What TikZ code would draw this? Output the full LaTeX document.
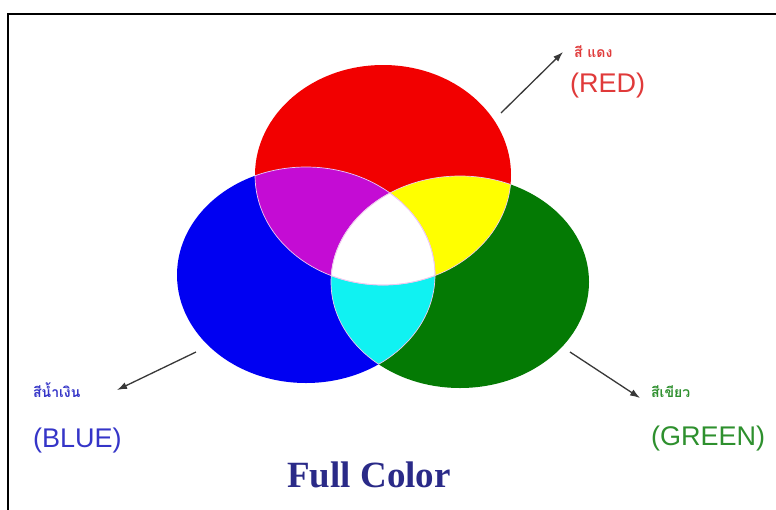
\documentclass[tikz,border=0pt]{standalone}
\usepackage{fontspec}
\setmainfont{Liberation Sans}
\newfontfamily\thaifont[Script=Thai]{Loma}
\newfontfamily\titlefont{Liberation Serif}
\usetikzlibrary{arrows.meta}
\definecolor{cred}{HTML}{F20000}
\definecolor{cblue}{HTML}{0000F2}
\definecolor{cgreen}{HTML}{047A04}
\definecolor{cmag}{HTML}{C40CD4}
\definecolor{cyel}{HTML}{FFFF00}
\definecolor{ccyan}{HTML}{10F2F2}
\definecolor{cedge}{HTML}{F0C8F0}
\definecolor{tred}{HTML}{E03A3A}
\definecolor{tblue}{HTML}{3535C8}
\definecolor{tgreen}{HTML}{2E902E}
\definecolor{tnavy}{HTML}{2A2A88}
\definecolor{arrowc}{HTML}{383838}
\tikzset{
  edgeline/.style={draw=cedge, line width=0.7pt},
  pointer/.style={draw=arrowc, line width=1.3pt, -{Latex[length=10pt,width=7pt]}},
  thailbl/.style={anchor=base west, inner sep=0pt, font=\thaifont\bfseries\fontsize{14}{15}\selectfont},
  englbl/.style={anchor=base west, inner sep=0pt, font=\fontsize{27}{29}\selectfont},
}
\def\RedE{(383,175) ellipse [x radius=128, y radius=110]}
\def\BlueE{(306,275) ellipse [x radius=129, y radius=108]}
\def\GreenE{(460,282) ellipse [x radius=129, y radius=106]}
\begin{document}
\begin{tikzpicture}[x=1pt,y=-1pt]
\useasboundingbox (0,0) rectangle (776,509);
\fill[white] (0,0) rectangle (776,509);
% frame
\draw[line width=2pt] (8,530) -- (8,14) -- (800,14);
% circles
\fill[cred] \RedE;
\fill[cblue] \BlueE;
\fill[cgreen] \GreenE;
\begin{scope}
  \clip \RedE;
  \fill[cmag] \BlueE;
  \fill[cyel] \GreenE;
\end{scope}
\begin{scope}
  \clip \BlueE;
  \fill[ccyan] \GreenE;
\end{scope}
\begin{scope}
  \clip \RedE;
  \clip \BlueE;
  \fill[white] \GreenE;
\end{scope}
% inner boundaries
\begin{scope}
  \clip \RedE;
  \draw[edgeline] \BlueE;
  \draw[edgeline] \GreenE;
\end{scope}
\begin{scope}
  \clip \BlueE;
  \draw[edgeline] \RedE;
  \draw[edgeline] \GreenE;
\end{scope}
\begin{scope}
  \clip \GreenE;
  \draw[edgeline] \RedE;
  \draw[edgeline] \BlueE;
\end{scope}
% labels
\node[thailbl, text=tred] (redth) at (574,57) {สี แดง};
\node[englbl, text=tred] (redlbl) at (570,92) {(RED)};
\node[thailbl, text=tblue] (blueth) at (33,397) {สีน้ำเงิน};
\node[englbl, text=tblue] (bluelbl) at (33,447) {(BLUE)};
\node[thailbl, text=tgreen] (greenth) at (651,397) {สีเขียว};
\node[englbl, text=tgreen] (greenlbl) at (651,445) {(GREEN)};
\node[anchor=base, inner sep=0pt, text=tnavy, font=\titlefont\bfseries\fontsize{37}{40}\selectfont] (title) at (369,487) {Full Color};
% arrows
\coordinate (redtail) at (501,113);
\coordinate (redtip) at (563,52);
\coordinate (bluetail) at (196,352);
\coordinate (bluetip) at (117,390);
\coordinate (greentail) at (570,352);
\coordinate (greentip) at (640,398);
\draw[pointer] (redtail) -- (redtip);
\draw[pointer] (bluetail) -- (bluetip);
\draw[pointer] (greentail) -- (greentip);
\end{tikzpicture}
\end{document}
